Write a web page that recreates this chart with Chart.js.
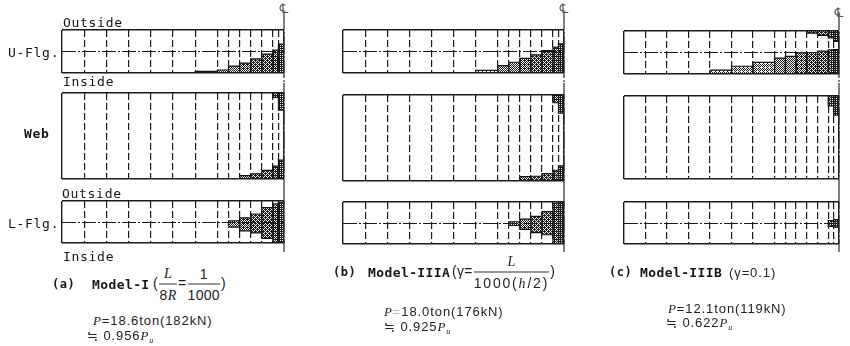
<!DOCTYPE html>
<html>
<head>
<meta charset="utf-8">
<script src="https://cdn.jsdelivr.net/npm/chart.js@4.4.1/dist/chart.umd.min.js"></script>
<style>
  html, body { margin: 0; padding: 0; background: #fff; }
  #fig { position: relative; width: 850px; height: 346px; overflow: hidden; background: #fff; }
  #fig canvas { position: absolute; }
  .t { position: absolute; white-space: nowrap; line-height: 1; color: #151515; transform: translateY(-50%); }
  .mono { font-family: "DejaVu Sans Mono", monospace; font-size: 13px; letter-spacing: 0.7px; }
  .bold { font-weight: bold; }
  .cap { font-family: "DejaVu Sans Mono", monospace; font-weight: bold; font-size: 13px; letter-spacing: 0.4px; }
  .tag { font-family: "DejaVu Sans Mono", monospace; font-weight: bold; font-size: 12px; letter-spacing: 0.5px; }
  .sans { font-family: "Liberation Sans", Arial, sans-serif; font-size: 13px; letter-spacing: 0.9px; color: #222; }
  .fsans { font-family: "Liberation Sans", Arial, sans-serif; font-size: 14px; letter-spacing: 0.3px; color: #222; }
  .wide { letter-spacing: 1.8px; }
  .it { font-family: "Liberation Serif", serif; font-style: italic; }
  .frac { display: inline-flex; flex-direction: column; align-items: center; vertical-align: middle; margin: 0 1px; }
  .frac .num { border-bottom: 1px solid #333; padding: 0 5px 3px 5px; align-self: stretch; text-align: center; }
  .frac .den { padding-top: 3px; }
  .cl { position: absolute; font-family: "DejaVu Sans", sans-serif; font-size: 13px; color: #555; transform: translate(-50%, -50%); }
  .faint { color: #bbb; }
</style>
</head>
<body>
<div id="fig"></div>
<script>
// Element boundaries along the half span, from the support (0) to the centre line (40)
const BOUNDS = [0, 4, 8, 12, 16, 20, 24, 28, 30, 32, 34, 36, 38, 39, 40];

// Yielded depth per element, as a fraction of the plate depth.
// *_IN / *_BOT : measured from the lower edge; *_OUT / *_TOP : measured from the upper edge.
// *_LO / *_HI  : band limits in the lower flange (0 = lower edge, 0.5 = mid-plane).

// (a) Model-I
const A_UFLG_IN  = [0, 0, 0, 0, 0, 0, 0.04, 0.07, 0.16, 0.23, 0.33, 0.44, 0.53, 0.67];
const A_WEB_TOP  = [0, 0, 0, 0, 0, 0, 0, 0, 0, 0, 0, 0, 0.05, 0.20];
const A_WEB_BOT  = [0, 0, 0, 0, 0, 0, 0, 0, 0, 0.04, 0.06, 0.10, 0.15, 0.22];
const A_LFLG_LO  = [null, null, null, null, null, null, null, null, 0.38, 0.29, 0.24, 0.11, 0.00, 0.00];
const A_LFLG_HI  = [null, null, null, null, null, null, null, null, 0.53, 0.60, 0.69, 0.84, 0.93, 0.97];

// (b) Model-IIIA
const B_UFLG_IN  = [0, 0, 0, 0, 0, 0, 0.06, 0.17, 0.25, 0.34, 0.42, 0.52, 0.60, 0.68];
const B_WEB_TOP  = [0, 0, 0, 0, 0, 0, 0, 0, 0, 0, 0, 0, 0.09, 0.21];
const B_WEB_BOT  = [0, 0, 0, 0, 0, 0, 0, 0, 0, 0.05, 0.055, 0.085, 0.125, 0.175];
const B_LFLG_LO  = [null, null, null, null, null, null, null, null, 0.44, 0.35, 0.27, 0.22, 0.00, 0.00];
const B_LFLG_HI  = [null, null, null, null, null, null, null, null, 0.53, 0.59, 0.66, 0.77, 0.97, 1.00];

// (c) Model-IIIB
const C_UFLG_IN  = [0, 0, 0, 0, 0.09, 0.18, 0.27, 0.37, 0.41, 0.49, 0.50, 0.53, 0.56, 0.57];
const C_UFLG_OUT = [0, 0, 0, 0, 0, 0, 0, 0, 0, 0, 0.05, 0.10, 0.16, 0.24];
const C_WEB_TOP  = [0, 0, 0, 0, 0, 0, 0, 0, 0, 0, 0, 0, 0.12, 0.23];
const C_LFLG_LO  = [null, null, null, null, null, null, null, null, null, null, null, null, 0.42, 0.40];
const C_LFLG_HI  = [null, null, null, null, null, null, null, null, null, null, null, null, 0.56, 0.58];

const MODELS = [
  { rows: { U: { bottom: A_UFLG_IN }, W: { top: A_WEB_TOP, bottom: A_WEB_BOT }, L: { lo: A_LFLG_LO, hi: A_LFLG_HI } } },
  { rows: { U: { bottom: B_UFLG_IN }, W: { top: B_WEB_TOP, bottom: B_WEB_BOT }, L: { lo: B_LFLG_LO, hi: B_LFLG_HI } } },
  { rows: { U: { bottom: C_UFLG_IN, top: C_UFLG_OUT }, W: { top: C_WEB_TOP }, L: { lo: C_LFLG_LO, hi: C_LFLG_HI } } }
];

// Layout of the three panels (page pixels)
const PANELS = [
  { x0: 62,  x1: 284, U: [30, 73], W: [93, 179], L: [201, 243] },
  { x0: 343, x1: 564, U: [30, 73], W: [95, 181], L: [202, 244] },
  { x0: 624, x1: 839, U: [31, 74], W: [96, 179], L: [202, 244] }
];
const ROW_BANDS = { U: [12, 83], W: [83, 191], L: [191, 252] };

// Ordered-dither halftone fills, darker toward the centre line
const BAYER = [[0, 8, 2, 10], [12, 4, 14, 6], [3, 11, 1, 9], [15, 7, 13, 5]];
const patternCache = {};
function halftone(level) {
  const key = level.toFixed(2);
  if (patternCache[key]) return patternCache[key];
  const c = document.createElement('canvas');
  c.width = 4; c.height = 4;
  const g = c.getContext('2d');
  const img = g.createImageData(4, 4);
  for (let y = 0; y < 4; y++) for (let x = 0; x < 4; x++) {
    const on = (BAYER[y][x] + 0.5) / 16 < level;
    const k = (y * 4 + x) * 4;
    const v = on ? 25 : 250;
    img.data[k] = v; img.data[k + 1] = v; img.data[k + 2] = v; img.data[k + 3] = 255;
  }
  g.putImageData(img, 0, 0);
  const p = g.createPattern(c, 'repeat');
  patternCache[key] = p;
  return p;
}
function shadeFor(i) {
  return halftone(Math.min(0.75, 0.45 + 0.04 * Math.max(0, i - 6)));
}

// Turn a row's depth arrays into filled zones (edge line + fill toward the anchor)
function zonesFor(row) {
  const z = [];
  for (let i = 0; i < BOUNDS.length - 1; i++) {
    const x0 = BOUNDS[i], x1 = BOUNDS[i + 1];
    if (row.bottom && row.bottom[i] > 0) z.push({ i, x0, x1, edge: row.bottom[i], base: 0 });
    if (row.top && row.top[i] > 0) z.push({ i, x0, x1, edge: 1 - row.top[i], base: 1 });
    if (row.lo && row.lo[i] !== null) {
      z.push({ i, x0, x1, edge: row.hi[i], base: 0.5 });
      z.push({ i, x0, x1, edge: row.lo[i], base: 0.5 });
    }
  }
  return z;
}

const centreLine = {
  id: 'centreLine',
  afterDraw(chart) {
    const ctx = chart.ctx;
    const x = chart.scales.x.getPixelForValue(40);
    ctx.save();
    ctx.strokeStyle = '#2a2a2a';
    ctx.lineWidth = 1.2;
    ctx.setLineDash([18, 2, 2, 2]);
    ctx.beginPath();
    ctx.moveTo(x, 0);
    ctx.lineTo(x, chart.height);
    ctx.stroke();
    ctx.restore();
  }
};

const fig = document.getElementById('fig');

function drawRow(panel, rowKey, row, isFlange) {
  const [bandTop, bandBot] = ROW_BANDS[rowKey];
  const [boxTop, boxBot] = panel[rowKey];
  const padX = 4;
  const canvas = document.createElement('canvas');
  const w = panel.x1 - panel.x0 + 2 * padX;
  const h = bandBot - bandTop;
  canvas.width = w; canvas.height = h;
  canvas.style.left = (panel.x0 - padX) + 'px';
  canvas.style.top = bandTop + 'px';
  canvas.style.width = w + 'px';
  canvas.style.height = h + 'px';
  fig.appendChild(canvas);

  const datasets = zonesFor(row).map(z => ({
    data: [{ x: z.x0, y: z.base }, { x: z.x0, y: z.edge }, { x: z.x1, y: z.edge }, { x: z.x1, y: z.base }],
    showLine: true,
    fill: { value: z.base },
    backgroundColor: shadeFor(z.i),
    borderColor: '#111',
    borderWidth: 1.2,
    pointRadius: 0,
    tension: 0
  }));

  new Chart(canvas, {
    type: 'scatter',
    data: { datasets },
    options: {
      responsive: false,
      animation: false,
      events: [],
      layout: { padding: { left: padX, right: padX, top: boxTop - bandTop, bottom: bandBot - boxBot } },
      plugins: { legend: { display: false }, tooltip: { enabled: false } },
      scales: {
        x: {
          type: 'linear', min: 0, max: 40,
          afterBuildTicks: s => { s.ticks = BOUNDS.map(v => ({ value: v })); },
          ticks: { display: false },
          grid: {
            z: 1, drawTicks: false, color: '#1a1a1a',
            lineWidth: c => (c.tick && (c.tick.value === 0 || c.tick.value === 40)) ? 1.4 : 1.2
          },
          border: {
            display: false,
            dash: c => (c.tick && (c.tick.value === 0 || c.tick.value === 40)) ? [] : [7, 3]
          }
        },
        y: {
          type: 'linear', min: 0, max: 1,
          afterBuildTicks: s => { s.ticks = [{ value: 0 }, { value: 0.5 }, { value: 1 }]; },
          ticks: { display: false },
          grid: {
            z: 1, drawTicks: false,
            color: c => (c.tick && c.tick.value === 0.5 && !isFlange) ? 'rgba(0,0,0,0)' : '#1a1a1a',
            lineWidth: c => (c.tick && c.tick.value === 0.5) ? 1 : 1.4
          },
          border: {
            display: false,
            dash: c => (c.tick && c.tick.value === 0.5) ? [14, 2, 2, 2] : []
          }
        }
      }
    },
    plugins: [centreLine]
  });
}

PANELS.forEach((panel, p) => {
  const rows = MODELS[p].rows;
  drawRow(panel, 'U', rows.U, true);
  drawRow(panel, 'W', rows.W, false);
  drawRow(panel, 'L', rows.L, true);
  const cl = document.createElement('div');
  cl.className = 'cl';
  cl.textContent = '\u2104';
  cl.style.left = panel.x1 + 'px';
  cl.style.top = (p === 2 ? 12 : 8) + 'px';
  fig.appendChild(cl);
});

function text(html, cls, left, cy) {
  const d = document.createElement('div');
  d.className = 't ' + cls;
  d.innerHTML = html;
  d.style.left = left + 'px';
  d.style.top = cy + 'px';
  fig.appendChild(d);
}

// Plate labels
text('Outside', 'mono', 63, 22);
text('U-Flg.', 'mono', 8, 52);
text('Inside', 'mono', 63, 81);
text('Web', 'mono bold', 24, 133);
text('Outside', 'mono', 62, 193);
text('L-Flg.', 'mono', 8, 223);
text('Inside', 'mono', 63, 256);

// Captions
const fr = (n, d) => '<span class="frac"><span class="num">' + n + '</span><span class="den">' + d + '</span></span>';

text('(a)', 'tag', 52, 284);
text('Model-I', 'cap', 92, 284);
text('(' + fr('<span class="it">L</span>', '8<span class="it">R</span>') + '=' + fr('1', '1000') + ')', 'fsans', 153, 284);
text('<span class="it">P</span>=18.6ton(182kN)', 'sans', 93, 320);
text('\u2252 0.956<span class="it">P<sub style="font-size:8px">u</sub></span>', 'sans', 87, 337);

text('(b)', 'tag', 333, 272);
text('Model-IIIA', 'cap', 368, 272);
text('(\u03b3=' + fr('<span class="it">L</span>', '<span class="wide">1000(<span class="it">h</span>/2)</span>') + ')', 'fsans', 452, 272);
text('<span class="it">P</span><span class="faint">=</span>18.0ton(176kN)', 'sans', 384, 311);
text('\u2252 0.925<span class="it">P<sub style="font-size:8px">u</sub></span>', 'sans', 384, 328);

text('(c)', 'tag', 609, 272);
text('Model-IIIB', 'cap', 640, 272);
text('(\u03b3=0.1)', 'sans', 729, 272);
text('<span class="it">P</span>=12.1ton(119kN)', 'sans', 668, 308);
text('\u2252 0.622<span class="it">P<sub style="font-size:8px">u</sub></span>', 'sans', 666, 324);
</script>
</body>
</html>
